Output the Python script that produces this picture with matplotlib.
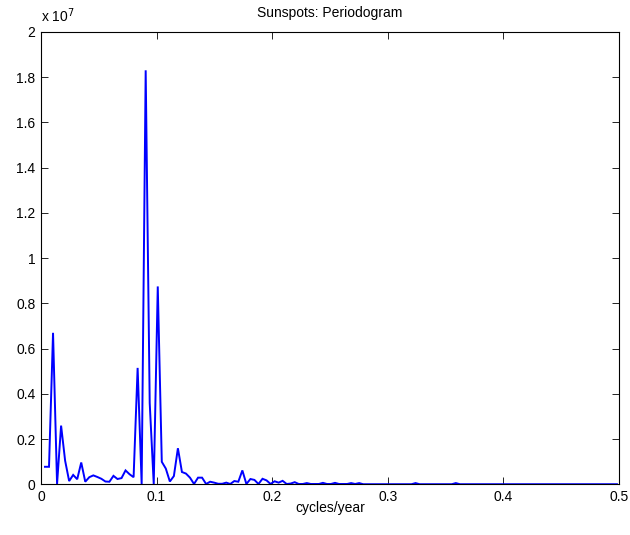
import numpy as np
import matplotlib
matplotlib.use("Agg")
import matplotlib.pyplot as plt

plt.rcParams['font.family'] = ['Liberation Sans', 'DejaVu Sans']

# Frequency grid: k * nyquist / (n/2), k = 1..143 (n = 287 yearly values)
nyquist = 0.5
half_n = 143.5
k_index = np.arange(1, 144)
freq = k_index / half_n * nyquist

# Periodogram power, in units of 1e6
power_e6 = [
    0.78, 0.78, 6.70, 0.02, 2.60, 1.05, 0.15, 0.42, 0.23, 0.97,
    0.12, 0.32, 0.40, 0.33, 0.25, 0.13, 0.12, 0.38, 0.24, 0.28,
    0.62, 0.45, 0.32, 5.15, 0.02, 18.30, 3.60, 0.02, 8.75, 1.00,
    0.70, 0.13, 0.37, 1.60, 0.55, 0.48, 0.30, 0.02, 0.30, 0.30,
    0.02, 0.12, 0.08, 0.03, 0.03, 0.08, 0.02, 0.15, 0.12, 0.62,
    0.02, 0.24, 0.20, 0.02, 0.25, 0.18, 0.02, 0.14, 0.08, 0.16,
    0.02, 0.04, 0.10, 0.02, 0.02, 0.06, 0.02, 0.02, 0.02, 0.07,
    0.02, 0.02, 0.07, 0.02, 0.02, 0.02, 0.06, 0.02, 0.06, 0.01,
    0.01, 0.01, 0.01, 0.01, 0.01, 0.01, 0.01, 0.01, 0.01, 0.01,
    0.01, 0.01, 0.06, 0.01, 0.01, 0.01, 0.01, 0.01, 0.01, 0.01,
    0.01, 0.01, 0.06, 0.01, 0.01, 0.01, 0.01, 0.01, 0.01, 0.01,
    0.01, 0.01, 0.01, 0.01, 0.01, 0.01, 0.01, 0.01, 0.01, 0.01,
    0.01, 0.01, 0.01, 0.01, 0.01, 0.01, 0.01, 0.01, 0.01, 0.01,
    0.01, 0.01, 0.01, 0.01, 0.01, 0.01, 0.01, 0.01, 0.01, 0.01,
    0.01, 0.01, 0.01,
]
power = np.array(power_e6) * 1e6

x_ticks = [0, 0.1, 0.2, 0.3, 0.4, 0.5]
x_tick_labels = ['0', '0.1', '0.2', '0.3', '0.4', '0.5']
y_ticks_e7 = [0, 0.2, 0.4, 0.6, 0.8, 1, 1.2, 1.4, 1.6, 1.8, 2]
y_tick_labels = ['0', '0.2', '0.4', '0.6', '0.8', '1', '1.2', '1.4', '1.6', '1.8', '2']

fig = plt.figure(figsize=(6.3, 5.35), dpi=100)
ax = fig.add_axes([0.065, 0.0945, 0.9175, 0.846])
ax.plot(freq, power, color=(0, 0, 1), lw=1.4, solid_joinstyle='miter')
ax.set_xlim(0, 0.5)
ax.set_ylim(0, 2e7)
ax.set_xticks(x_ticks)
ax.set_xticklabels(x_tick_labels)
ax.set_yticks([v * 1e7 for v in y_ticks_e7])
ax.set_yticklabels(y_tick_labels)
ax.tick_params(direction='in', length=5, width=0.6, top=True, right=True,
               labelsize=10, pad=4)
for s in ax.spines.values():
    s.set_linewidth(0.8)
ax.set_title('Sunspots: Periodogram', fontsize=10, pad=10.5)
ax.set_xlabel('cycles/year', fontsize=10, labelpad=-2)
ax.text(0.0, 1.016, r'x 10$^{7}$', transform=ax.transAxes, fontsize=10,
        ha='left', va='bottom')

fig.savefig('out.png', dpi=100)
